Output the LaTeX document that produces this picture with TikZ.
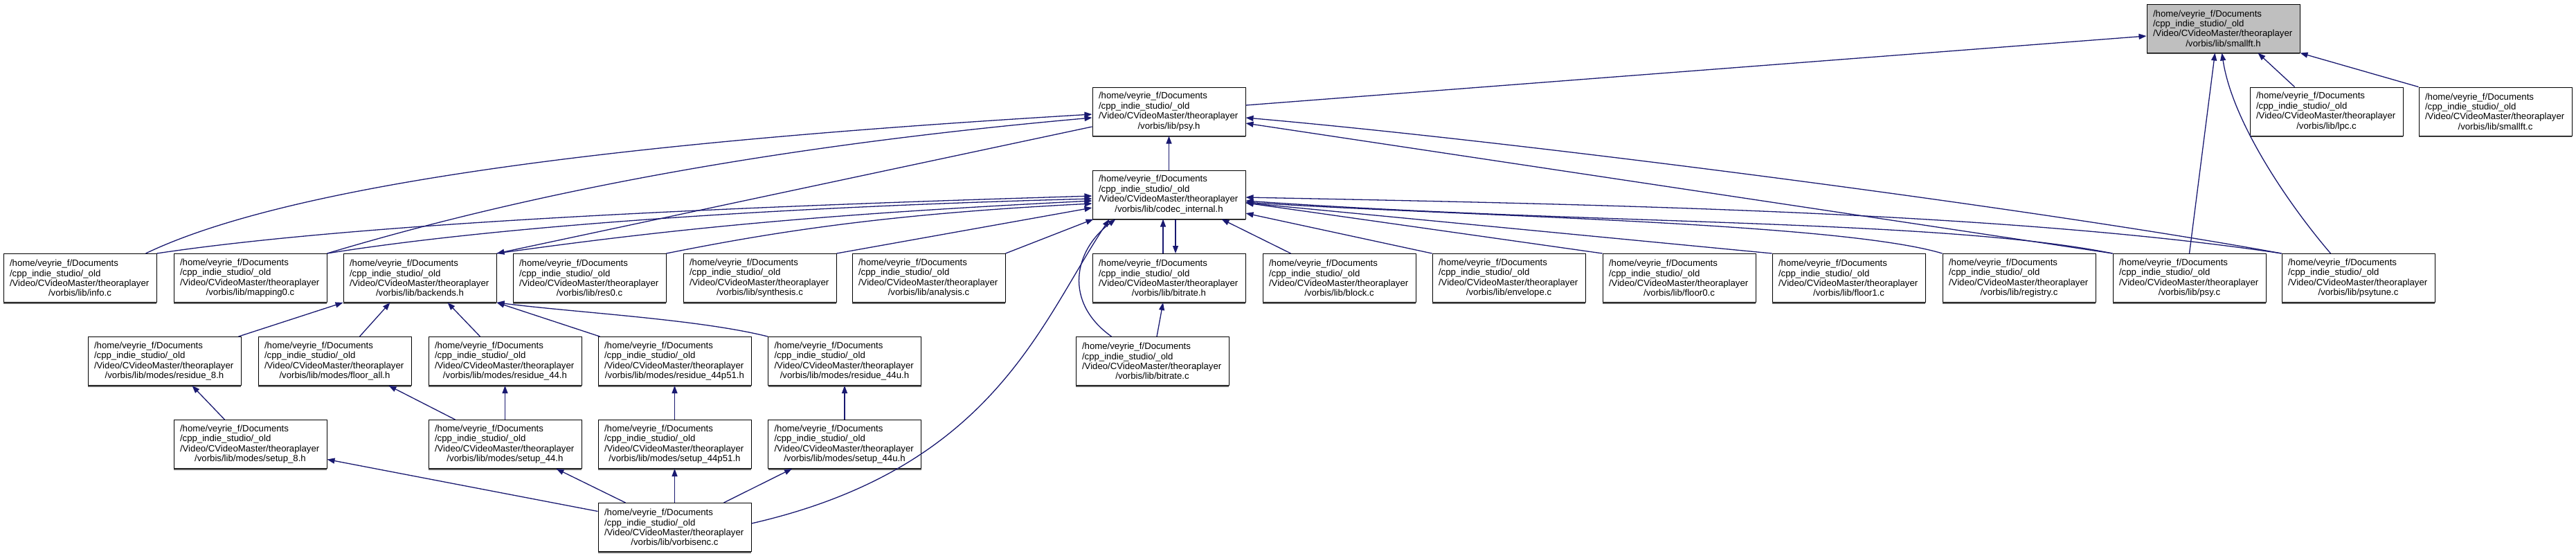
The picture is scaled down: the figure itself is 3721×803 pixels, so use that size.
\documentclass[tikz,border=0pt]{standalone}
\usepackage{fontspec}
\setmainfont{Liberation Sans}
\usetikzlibrary{arrows.meta,shadows}
\definecolor{edgeblue}{RGB}{25,25,112}
\definecolor{shadowgray}{RGB}{100,100,100}
\newcommand\flbl[1]{\parbox{203pt}{\fontsize{13.2pt}{14.4pt}\selectfont\raggedright /home/veyrie\_f/Documents\\/cpp\_indie\_studio/\_old\\/Video/CVideoMaster/theoraplayer\\\makebox[203pt]{#1}}}
\tikzset{
  file/.style={draw=black, line width=1pt, fill=white, minimum width=221pt, minimum height=70pt, inner sep=0pt,
    drop shadow={shadow xshift=0pt, shadow yshift=-2pt, fill=shadowgray, opacity=1}},
  cur/.style={file, fill=gray!50},
  dep/.style={draw=edgeblue, line width=1.3pt, -{Triangle[length=11pt,width=8pt]}}
}
\begin{document}
\begin{tikzpicture}[x=1pt,y=-1pt]
\useasboundingbox (0,0) rectangle (3721,803);
% row 0
\node[cur] (smallft_h) at (3211.5,41) {\flbl{/vorbis/lib/smallft.h}};
% row 1
\node[file] (psy_h) at (1688.5,161) {\flbl{/vorbis/lib/psy.h}};
\node[file] (lpc_c) at (3360.5,161) {\flbl{/vorbis/lib/lpc.c}};
\node[file] (smallft_c) at (3604.5,161) {\flbl{/vorbis/lib/smallft.c}};
% row 2
\node[file] (codec) at (1688.5,281) {\flbl{/vorbis/lib/codec\_internal.h}};
% row 3
\node[file] (info) at (115.5,401.5) {\flbl{/vorbis/lib/info.c}};
\node[file] (mapping0) at (361.5,401.5) {\flbl{/vorbis/lib/mapping0.c}};
\node[file] (backends) at (606.5,401.5) {\flbl{/vorbis/lib/backends.h}};
\node[file] (res0) at (851.5,401.5) {\flbl{/vorbis/lib/res0.c}};
\node[file] (synthesis) at (1097.5,401.5) {\flbl{/vorbis/lib/synthesis.c}};
\node[file] (analysis) at (1341.5,401.5) {\flbl{/vorbis/lib/analysis.c}};
\node[file] (bitrate_h) at (1688.5,401.5) {\flbl{/vorbis/lib/bitrate.h}};
\node[file] (block) at (1934.5,401.5) {\flbl{/vorbis/lib/block.c}};
\node[file] (envelope) at (2179.5,401.5) {\flbl{/vorbis/lib/envelope.c}};
\node[file] (floor0) at (2425.5,401.5) {\flbl{/vorbis/lib/floor0.c}};
\node[file] (floor1) at (2670.5,401.5) {\flbl{/vorbis/lib/floor1.c}};
\node[file] (registry) at (2916.5,401.5) {\flbl{/vorbis/lib/registry.c}};
\node[file] (psy_c) at (3162.5,401.5) {\flbl{/vorbis/lib/psy.c}};
\node[file] (psytune) at (3406.5,401.5) {\flbl{/vorbis/lib/psytune.c}};
% row 4
\node[file] (residue_8) at (237.5,521.5) {\flbl{/vorbis/lib/modes/residue\_8.h}};
\node[file] (floor_all) at (483.5,521.5) {\flbl{/vorbis/lib/modes/floor\_all.h}};
\node[file] (residue_44) at (729.5,521.5) {\flbl{/vorbis/lib/modes/residue\_44.h}};
\node[file] (residue_44p51) at (974.5,521.5) {\flbl{/vorbis/lib/modes/residue\_44p51.h}};
\node[file] (residue_44u) at (1220,521.5) {\flbl{/vorbis/lib/modes/residue\_44u.h}};
\node[file] (bitrate_c) at (1664.5,521.5) {\flbl{/vorbis/lib/bitrate.c}};
% row 5
\node[file] (setup_8) at (361.5,641.5) {\flbl{/vorbis/lib/modes/setup\_8.h}};
\node[file] (setup_44) at (729.5,641.5) {\flbl{/vorbis/lib/modes/setup\_44.h}};
\node[file] (setup_44p51) at (974.5,641.5) {\flbl{/vorbis/lib/modes/setup\_44p51.h}};
\node[file] (setup_44u) at (1220,641.5) {\flbl{/vorbis/lib/modes/setup\_44u.h}};
% row 6
\node[file] (vorbisenc) at (974.5,761.5) {\flbl{/vorbis/lib/vorbisenc.c}};

% edges into smallft.h
\draw[dep] ([yshift=9pt]psy_h.east) -- ([yshift=-11pt]smallft_h.west);
\draw[dep] ([xshift=65pt]lpc_c.north west) -- ([xshift=161pt]smallft_h.south west);
\draw[dep] (smallft_c.north west) -- (smallft_h.south east);
\draw[dep] ([xshift=111pt]psy_c.north west) -- ([xshift=99pt]smallft_h.south west);
\draw[dep] ([xshift=71pt]psytune.north west) .. controls +(-60,-70) and +(15,100) .. ([xshift=109pt]smallft_h.south west);

% edges into psy.h
\draw[dep] (codec.north) -- (psy_h.south);
\draw[dep] ([xshift=206pt]info.north west) .. controls +(250,-120) and +(-500,30) .. ([yshift=-4pt]psy_h.west);
\draw[dep] (mapping0.north east) .. controls +(300,-90) and +(-450,40) .. ([yshift=-9pt]psy_h.west);
\draw[dep] (psy_c.north west) -- ([yshift=-17pt]psy_h.east);
\draw[dep] (psytune.north west) .. controls +(-350,-64) and +(400,35) .. ([yshift=-9pt]psy_h.east);
\draw[dep] ([yshift=-22pt]psy_h.west) -- (backends.north east);

% edges into codec_internal.h
\draw[dep] (info.north east) .. controls +(300,-45) and +(-500,15) .. ([yshift=-2pt]codec.west);
\draw[dep] (mapping0.north east) .. controls +(250,-40) and +(-450,12) .. ([yshift=-6pt]codec.west);
\draw[dep] (backends.north east) .. controls +(250,-35) and +(-400,20) .. ([yshift=-9pt]codec.west);
\draw[dep] (res0.north east) .. controls +(150,-30) and +(-300,15) .. ([yshift=-13pt]codec.west);
\draw[dep] (synthesis.north east) -- ([yshift=-19pt]codec.west);
\draw[dep] (analysis.north east) -- ([xshift=2pt]codec.south west);
\draw[dep] ([xshift=-8.5pt]bitrate_h.north) -- ([xshift=-8.5pt]codec.south);
\draw[dep] ([xshift=9.5pt]codec.south) -- ([xshift=9.5pt]bitrate_h.north);
\draw[dep] ([xshift=52pt]bitrate_c.north west) .. controls +(-70,-50) and +(-60,45) .. ([xshift=34pt]codec.south west);
\draw[dep] ([yshift=5.5pt]vorbisenc.east) .. controls +(350,-80) and +(-100,150) .. ([xshift=25pt]codec.south west);
\draw[dep] ([xshift=41pt]block.north west) -- ([xshift=187pt]codec.south west);
\draw[dep] (envelope.north west) -- ([yshift=-27pt]codec.east);
\draw[dep] (floor0.north west) -- ([yshift=-12pt]codec.east);
\draw[dep] (floor1.north west) -- ([yshift=-12pt]codec.east);
\draw[dep] (registry.north west) .. controls +(-150,-45) and +(300,20) .. ([yshift=-11pt]codec.east);
\draw[dep] (psy_c.north west) .. controls +(-250,-50) and +(500,35) .. ([yshift=-9pt]codec.east);
\draw[dep] (psytune.north west) .. controls +(-400,-60) and +(500,10) .. ([yshift=-4pt]codec.east);

% bitrate.c -> bitrate.h
\draw[dep] ([xshift=6.5pt]bitrate_c.north) -- ([xshift=-8.5pt]bitrate_h.south);

% edges into backends.h
\draw[dep] ([xshift=-4pt]residue_8.north east) -- (backends.south west);
\draw[dep] ([xshift=147pt]floor_all.north west) -- ([xshift=68pt]backends.south west);
\draw[dep] ([xshift=75pt]residue_44.north west) -- ([xshift=151pt]backends.south west);
\draw[dep] ([xshift=3pt]residue_44p51.north west) -- (backends.south east);
\draw[dep] (residue_44u.north west) .. controls +(-100,-25) and +(120,15) .. (backends.south east);

% setup -> residue / floor
\draw[dep] ([xshift=74pt]setup_8.north west) -- ([xshift=151pt]residue_8.south west);
\draw[dep] ([xshift=39pt]setup_44.north west) -- ([xshift=189pt]floor_all.south west);
\draw[dep] (setup_44.north) -- (residue_44.south);
\draw[dep] (setup_44p51.north) -- (residue_44p51.south);
\draw[dep] (setup_44u.north) -- (residue_44u.south);

% vorbisenc -> setup
\draw[dep] ([yshift=23pt]vorbisenc.west) -- ([yshift=-22pt]setup_8.east);
\draw[dep] ([xshift=40pt]vorbisenc.north west) -- ([xshift=185pt]setup_44.south west);
\draw[dep] (vorbisenc.north) -- (setup_44p51.south);
\draw[dep] ([xshift=182pt]vorbisenc.north west) -- ([xshift=35pt]setup_44u.south west);
\end{tikzpicture}
\end{document}
